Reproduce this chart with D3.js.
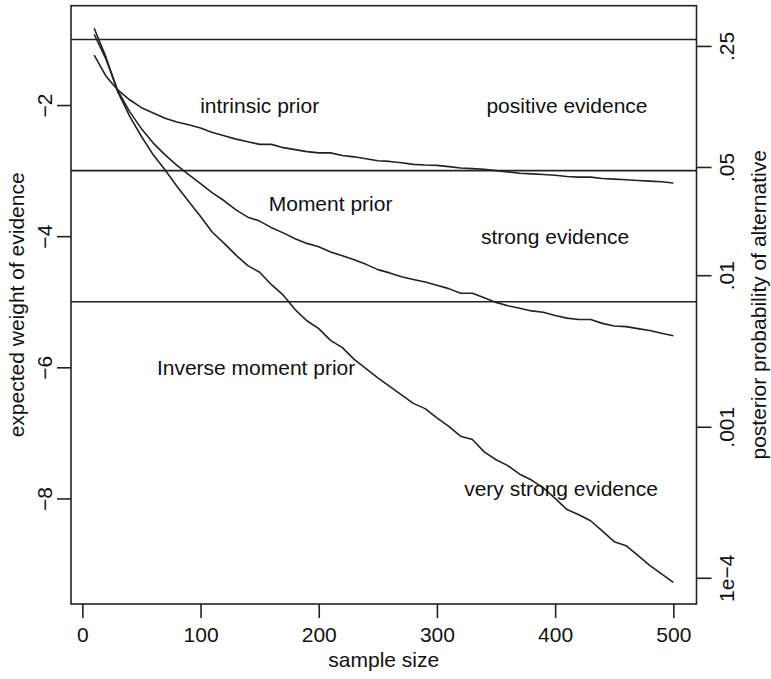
<!DOCTYPE html>
<html>
<head>
<meta charset="utf-8">
<script src="https://cdn.jsdelivr.net/npm/d3@7"></script>
<style>
  html, body { margin: 0; padding: 0; background: #fff; }
  svg text { font-family: "Liberation Sans", Arial, Helvetica, sans-serif; fill: #111; }
</style>
</head>
<body>
<svg id="chart" width="771" height="679"></svg>
<script>
// ---- data ----
const sampleSize = [10,20,30,40,50,60,70,80,90,100,110,120,130,140,150,160,170,180,190,200,
  210,220,230,240,250,260,270,280,290,300,310,320,330,340,350,360,370,380,390,400,
  410,420,430,440,450,460,470,480,490,500];
const intrinsicPrior = [-1.24,-1.56,-1.77,-1.92,-2.04,-2.12,-2.20,-2.26,-2.30,-2.35,
  -2.42,-2.47,-2.52,-2.56,-2.60,-2.60,-2.65,-2.68,-2.71,-2.73,
  -2.73,-2.77,-2.79,-2.82,-2.85,-2.86,-2.88,-2.905,-2.915,-2.92,
  -2.94,-2.96,-2.97,-2.98,-3.00,-3.02,-3.04,-3.05,-3.06,-3.07,
  -3.09,-3.10,-3.10,-3.12,-3.13,-3.14,-3.15,-3.16,-3.17,-3.19];
const momentPrior = [-0.92,-1.30,-1.78,-2.10,-2.36,-2.58,-2.76,-2.92,-3.06,-3.20,
  -3.34,-3.46,-3.60,-3.71,-3.77,-3.87,-3.95,-4.04,-4.11,-4.16,
  -4.24,-4.30,-4.36,-4.43,-4.51,-4.56,-4.62,-4.66,-4.70,-4.75,
  -4.80,-4.87,-4.87,-4.94,-5.01,-5.06,-5.10,-5.14,-5.16,-5.21,
  -5.25,-5.27,-5.27,-5.33,-5.37,-5.38,-5.41,-5.44,-5.48,-5.52];
const inverseMomentPrior = [-0.83,-1.27,-1.80,-2.17,-2.48,-2.76,-2.99,-3.24,-3.47,-3.70,
  -3.94,-4.11,-4.29,-4.45,-4.55,-4.74,-4.90,-5.12,-5.29,-5.41,
  -5.59,-5.70,-5.88,-6.02,-6.16,-6.29,-6.42,-6.55,-6.63,-6.77,
  -6.90,-7.05,-7.10,-7.29,-7.41,-7.50,-7.63,-7.72,-7.84,-8.00,
  -8.17,-8.25,-8.34,-8.50,-8.66,-8.72,-8.87,-9.02,-9.15,-9.28];
const thresholds = [-1, -3, -5];
const xTicks = [0, 100, 200, 300, 400, 500];
const yTicks = [-2, -4, -6, -8];
const probTicks = [0.25, 0.05, 0.01, 0.001, 0.0001];
const probLabels = [".25", ".05", ".01", ".001", "1e\u22124"];
const annotations = [
  {text: "intrinsic prior", x: 150, y: -2},
  {text: "positive evidence", x: 410, y: -2},
  {text: "Moment prior", x: 210, y: -3.5},
  {text: "strong evidence", x: 400, y: -4},
  {text: "Inverse moment prior", x: 147, y: -6},
  {text: "very strong evidence", x: 405, y: -7.85}
];

// ---- layout ----
const svg = d3.select("#chart");
const L = 71, R = 696.5, T = 5.7, B = 604;
const FS = 21;
const ink = "#222";

const x = d3.scaleLinear().domain([-9.6, 519.6]).range([L, R]);
const y = d3.scaleLinear().domain([-9.61, -0.485]).range([B, T]);

// threshold lines
svg.append("g").selectAll("line").data(thresholds).join("line")
  .attr("x1", L).attr("x2", R)
  .attr("y1", d => y(d)).attr("y2", d => y(d))
  .attr("stroke", ink).attr("stroke-width", 1.6);

// curves
const line = d3.line().x((d, i) => x(sampleSize[i])).y(d => y(d));
[intrinsicPrior, momentPrior, inverseMomentPrior].forEach(s => {
  svg.append("path").datum(s).attr("d", line)
    .attr("fill", "none").attr("stroke", ink).attr("stroke-width", 1.6)
    .attr("stroke-linejoin", "round");
});

// box
svg.append("rect").attr("x", L).attr("y", T).attr("width", R - L).attr("height", B - T)
  .attr("fill", "none").attr("stroke", ink).attr("stroke-width", 1.6);

// bottom axis
const gx = svg.append("g").attr("transform", `translate(0,${B})`)
  .call(d3.axisBottom(x).tickValues(xTicks).tickSize(14).tickPadding(9).tickFormat(d3.format("d")));
gx.select(".domain").remove();
gx.selectAll("line").attr("stroke", ink).attr("stroke-width", 1.6);
gx.selectAll("text").attr("font-size", FS).attr("fill", "#111")
  .style("font-family", '"Liberation Sans", Arial, sans-serif');

// left axis
const gy = svg.append("g").attr("transform", `translate(${L},0)`)
  .call(d3.axisLeft(y).tickValues(yTicks).tickSize(14).tickFormat(d => d3.format("d")(d).replace("-", "\u2212")));
gy.select(".domain").remove();
gy.selectAll("line").attr("stroke", ink).attr("stroke-width", 1.6);
gy.selectAll("text").attr("font-size", FS).attr("fill", "#111")
  .attr("x", null).attr("dy", null).attr("text-anchor", "middle")
  .attr("transform", "translate(-19.3,0) rotate(-90)")
  .style("font-family", '"Liberation Sans", Arial, sans-serif');

// right axis (logit of posterior probability)
const logit = p => Math.log(p / (1 - p));
const gr = svg.append("g").attr("transform", `translate(${R},0)`)
  .call(d3.axisRight(y).tickValues(probTicks.map(logit)).tickSize(15)
    .tickFormat((d, i) => probLabels[i]));
gr.select(".domain").remove();
gr.selectAll("line").attr("stroke", ink).attr("stroke-width", 1.6);
gr.selectAll("text").attr("font-size", FS).attr("fill", "#111")
  .attr("x", null).attr("dy", null).attr("text-anchor", "middle")
  .attr("transform", "translate(37.5,0) rotate(-90)")
  .style("font-family", '"Liberation Sans", Arial, sans-serif');

// axis titles
svg.append("text").attr("x", (L + R) / 2).attr("y", 667).attr("text-anchor", "middle")
  .attr("font-size", FS).text("sample size");
svg.append("text").attr("transform", `translate(24,${(T + B) / 2}) rotate(-90)`)
  .attr("text-anchor", "middle").attr("font-size", FS).text("expected weight of evidence");
svg.append("text").attr("transform", `translate(766,${(T + B) / 2}) rotate(-90)`)
  .attr("text-anchor", "middle").attr("font-size", FS).text("posterior probability of alternative");

// annotations
svg.append("g").selectAll("text").data(annotations).join("text")
  .attr("x", d => x(d.x)).attr("y", d => y(d.y) + 7.5)
  .attr("text-anchor", "middle").attr("font-size", FS)
  .text(d => d.text);
</script>
</body>
</html>
